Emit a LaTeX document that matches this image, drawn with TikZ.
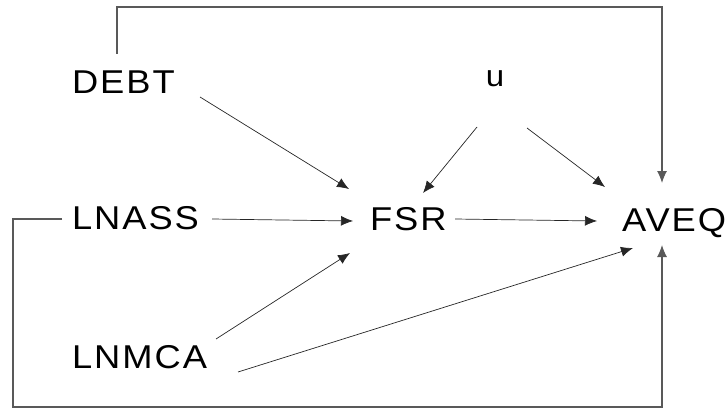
\documentclass[tikz,border=0pt]{standalone}
\usepackage{fontspec}
\setmainfont[LetterSpace=6, FakeStretch=1.1]{Liberation Sans}
\usetikzlibrary{arrows.meta}
\tikzset{
  var/.style={inner sep=0pt, outer sep=0pt, font=\fontsize{33}{38}\selectfont, anchor=base west},
  arr/.style={line width=0.7pt, draw=black!85, -{Latex[length=12pt,width=10pt]}},
  loopline/.style={line width=1.1pt, draw=black!65, -{Latex[length=12pt,width=10pt]}}
}
\begin{document}
\begin{tikzpicture}[x=1pt,y=-1pt]
\useasboundingbox (0,0) rectangle (727,409);
\node[var] (DEBT) at (72,94) {DEBT};
\node[var, anchor=base, font=\fontsize{30}{34}\selectfont] (U) at (495,87) {u};
\node[var] (LNASS) at (72,229) {LNASS};
\node[var] (LNMCA) at (72,368) {LNMCA};
\node[var] (FSR) at (370,230) {FSR};
\node[var] (AVEQ) at (622,231) {AVEQ};

\draw[arr] ([shift={(128,3)}]DEBT.base west) -- ([shift={(-21,-41)}]FSR.base west);
\draw[arr] ([shift={(-18,40)}]U.base) -- ([shift={(53,-37)}]FSR.base west);
\draw[arr] ([shift={(32,41)}]U.base) -- ([shift={(-17,-44)}]AVEQ.base west);
\draw[arr] ([shift={(140,-10)}]LNASS.base west) -- ([shift={(-17,-9)}]FSR.base west);
\draw[arr] ([shift={(85,-11)}]FSR.base west) -- ([shift={(-25,-10)}]AVEQ.base west);
\draw[arr] ([shift={(144,-29)}]LNMCA.base west) -- ([shift={(-20,23)}]FSR.base west);
\draw[arr] ([shift={(166,4)}]LNMCA.base west) -- ([shift={(11,17)}]AVEQ.base west);

\draw[loopline] ([shift={(45,-40)}]DEBT.base west) -- ++(0,-47) -| ([shift={(40,-48)}]AVEQ.base west);
\draw[loopline] ([shift={(-10,-10)}]LNASS.base west) -- ++(-49,0) -- ++(0,188) -| ([shift={(40,14)}]AVEQ.base west);
\end{tikzpicture}
\end{document}
